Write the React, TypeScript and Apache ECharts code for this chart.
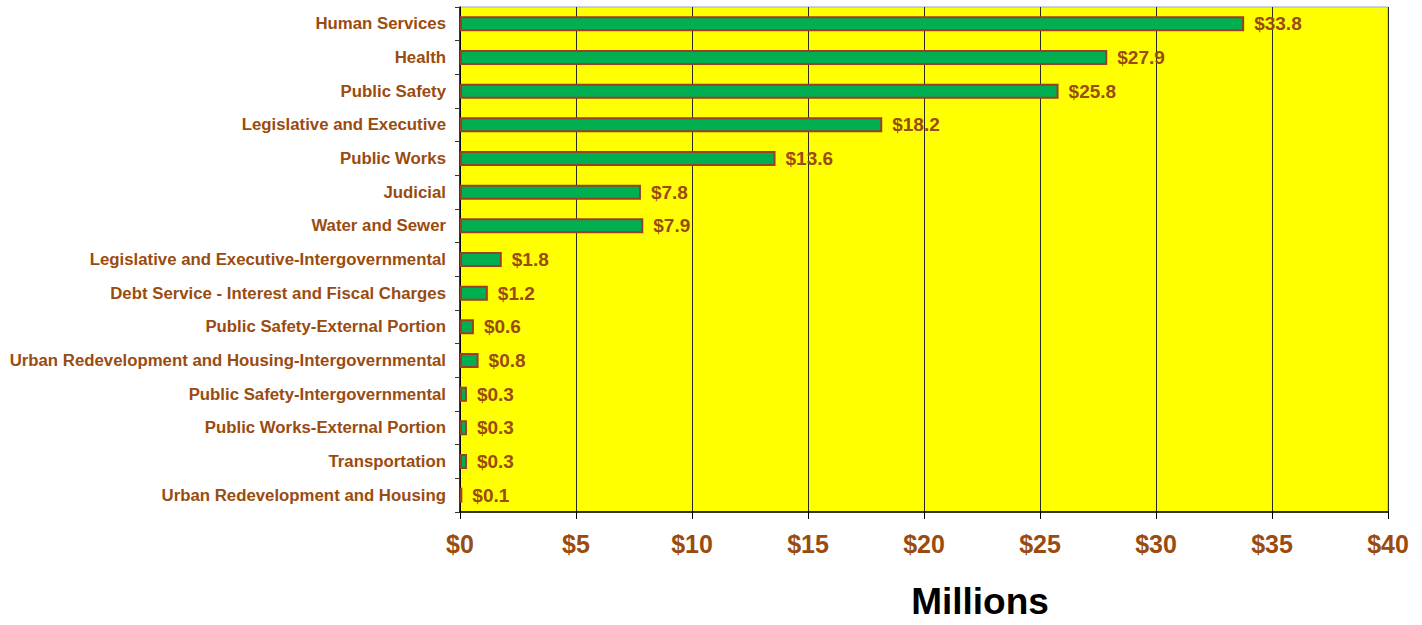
import React, { useEffect, useRef } from "react";
import * as echarts from "echarts";

const categories = [
  "Human Services",
  "Health",
  "Public Safety",
  "Legislative and Executive",
  "Public Works",
  "Judicial",
  "Water and Sewer",
  "Legislative and Executive-Intergovernmental",
  "Debt Service - Interest and Fiscal Charges",
  "Public Safety-External Portion",
  "Urban Redevelopment and Housing-Intergovernmental",
  "Public Safety-Intergovernmental",
  "Public Works-External Portion",
  "Transportation",
  "Urban Redevelopment and Housing",
];
const values = [33.8, 27.9, 25.8, 18.2, 13.6, 7.8, 7.9, 1.8, 1.2, 0.6, 0.8, 0.3, 0.3, 0.3, 0.1];
const axisTicks = [0, 5, 10, 15, 20, 25, 30, 35, 40];
const axisTitle = "Millions";

const BROWN = "#9a4c10";
const FONT = "'Liberation Sans', Arial, sans-serif";

export default function App() {
  const ref = useRef<HTMLDivElement>(null);
  useEffect(() => {
    if (!ref.current) return;
    const chart = echarts.init(ref.current, null, { renderer: "svg" });
    chart.setOption({
      animation: false,
      grid: {
        left: 460,
        right: 34,
        top: 7,
        bottom: 113,
        show: true,
        containLabel: false,
        outerBoundsMode: "none",
        backgroundColor: "#ffff00",
        borderColor: "#8fa9cf",
        borderWidth: 1,
      },
      xAxis: {
        type: "value",
        min: axisTicks[0],
        max: axisTicks[axisTicks.length - 1],
        interval: 5,
        axisLine: { show: true, lineStyle: { color: "#000", width: 1.5 } },
        axisTick: { show: true, length: 7, lineStyle: { color: "#000" } },
        splitLine: { show: true, lineStyle: { color: "#2a2a1a", width: 1 } },
        axisLabel: {
          color: BROWN,
          fontFamily: FONT,
          fontWeight: "bold",
          fontSize: 25,
          margin: 19,
          formatter: (v: number) => "$" + v,
        },
        name: axisTitle,
        nameLocation: "middle",
        nameGap: 72,
        nameTextStyle: {
          color: "#000",
          fontFamily: FONT,
          fontWeight: "bold",
          fontSize: 37,
          lineHeight: 34,
          padding: [0, 0, 0, 112],
        },
      },
      yAxis: {
        type: "category",
        data: categories,
        inverse: true,
        axisLine: { show: true, lineStyle: { color: "#000", width: 1.5 } },
        axisTick: { show: true, length: 5, lineStyle: { color: "#333" } },
        splitLine: { show: false },
        axisLabel: {
          color: BROWN,
          fontFamily: FONT,
          fontWeight: "bold",
          fontSize: 16.8,
          margin: 14,
        },
      },
      series: [
        {
          type: "bar",
          data: values,
          barWidth: 15,
          itemStyle: { color: "#00b050", borderColor: "#9c3f26", borderWidth: 2 },
          label: {
            show: true,
            position: "right",
            distance: 10,
            color: BROWN,
            fontFamily: FONT,
            fontWeight: "bold",
            fontSize: 19,
            formatter: (p: any) => "$" + Number(p.value).toFixed(1),
          },
        },
      ],
    });
    return () => chart.dispose();
  }, []);
  return <div ref={ref} style={{ width: 1422, height: 625, position: "absolute", left: 0, top: 0 }} />;
}
